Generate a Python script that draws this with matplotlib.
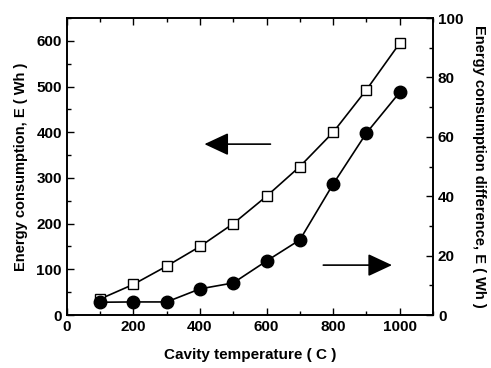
import matplotlib

matplotlib.use("Agg")
import matplotlib.pyplot as plt
from matplotlib.ticker import MultipleLocator

plt.rcParams["font.family"] = ["Liberation Sans", "DejaVu Sans"]
plt.rcParams["font.weight"] = "bold"

# data
temps = [100, 200, 300, 400, 500, 600, 700, 800, 900, 1000]
energy = [35, 67, 107, 150, 200, 260, 325, 400, 493, 595]
energy_diff = [4.3, 4.4, 4.4, 8.8, 10.8, 18.2, 25.3, 44.1, 61.3, 75.0]

fig = plt.figure(figsize=(4.91, 3.68), dpi=100)
ax = fig.add_axes([0.136, 0.144, 0.746, 0.807])
ax2 = ax.twinx()

ax.plot(temps, energy, color="black", lw=1.2, marker="s", ms=7,
        mfc="white", mec="black", mew=1.0, zorder=3)
ax2.plot(temps, energy_diff, color="black", lw=1.2, marker="o", ms=9,
         mfc="black", mec="black", zorder=3)

ax.set_xlim(0, 1100)
ax.set_ylim(0, 650)
ax2.set_ylim(0, 100)

ax.xaxis.set_major_locator(MultipleLocator(200))
ax.xaxis.set_minor_locator(MultipleLocator(100))
ax.yaxis.set_major_locator(MultipleLocator(100))
ax.yaxis.set_minor_locator(MultipleLocator(50))
ax2.yaxis.set_major_locator(MultipleLocator(20))
ax2.yaxis.set_minor_locator(MultipleLocator(10))

ax.tick_params(which="both", direction="in", top=True, right=False,
               labelsize=11, width=1.0)
ax.tick_params(which="major", length=5)
ax.tick_params(which="minor", length=3)
ax2.tick_params(which="both", direction="in", labelsize=11, width=1.0)
ax2.tick_params(which="major", length=5)
ax2.tick_params(which="minor", length=3)

for a in (ax, ax2):
    for s in a.spines.values():
        s.set_linewidth(1.2)
    for lbl in a.get_xticklabels() + a.get_yticklabels():
        lbl.set_fontweight("bold")

ax.set_xlabel("Cavity temperature ( C )", fontsize=11, fontweight="bold",
              labelpad=10)
ax.set_ylabel("Energy consumption, E ( Wh )", fontsize=10.5,
              fontweight="bold", labelpad=6)
ax2.set_ylabel("Energy consumption difference, E ( Wh )", fontsize=10.5,
               fontweight="bold", rotation=270, labelpad=16)

# direction arrows
head = "-|>,head_length=1.5,head_width=0.7"
ax.annotate("", xy=(405, 374), xytext=(620, 374),
            arrowprops=dict(arrowstyle=head, color="black", lw=1.2))
ax2.annotate("", xy=(985, 16.8), xytext=(762, 16.8),
             arrowprops=dict(arrowstyle=head, color="black", lw=1.2))

fig.savefig("out.png", dpi=100)
